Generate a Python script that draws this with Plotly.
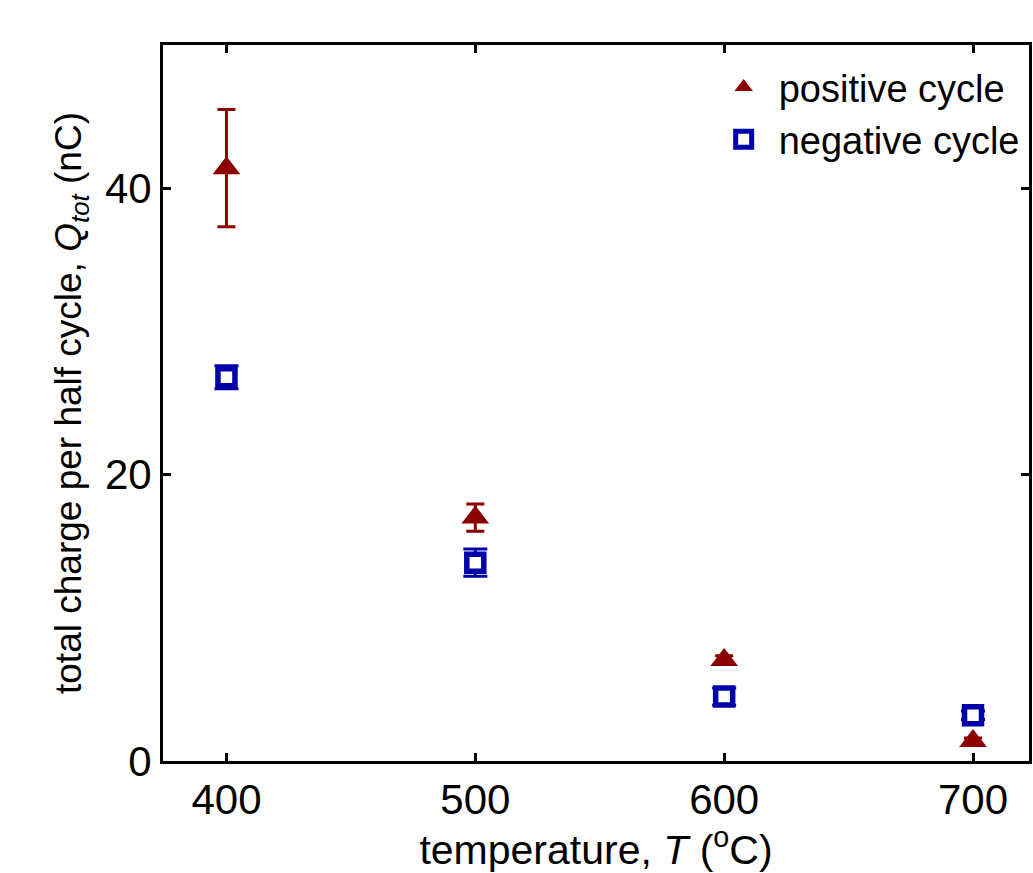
import plotly.graph_objects as go

temps = [400, 500, 600, 700]
pos_q = [41.4, 17.0, 7.05, 1.4]
pos_err = [4.1, 0.95, 0.3, 0.2]
neg_q = [26.8, 13.85, 4.5, 3.2]
neg_err = [0.8, 0.95, 0.6, 0.3]
x_ticks = [400, 500, 600, 700]
y_ticks = [0, 20, 40]

RED = "#8b0000"
BLUE = "#0000aa"
FONT = "Liberation Sans, Arial, sans-serif"

fig = go.Figure()
fig.add_trace(go.Scatter(
    x=temps, y=pos_q, mode="markers", name="positive cycle",
    marker=dict(symbol="triangle-up", size=24, color=RED, line=dict(width=0)),
    error_y=dict(type="data", array=pos_err, color=RED, thickness=3, width=9),
))
fig.add_trace(go.Scatter(
    x=temps, y=neg_q, mode="markers", name="negative cycle",
    marker=dict(symbol="square", size=17, color="white", line=dict(width=5.5, color=BLUE)),
    error_y=dict(type="data", array=neg_err, color=BLUE, thickness=3, width=12),
))

axis_common = dict(
    showline=True, linecolor="black", linewidth=3, mirror="ticks",
    ticks="inside", ticklen=8, tickwidth=3, tickcolor="black",
    showgrid=False, zeroline=False, automargin=False,
    tickfont=dict(family=FONT, size=42, color="black"),
)
fig.update_xaxes(
    range=[374.5, 722.5], tickvals=x_ticks,
    title=dict(text="temperature, <i>T</i> (<sup>o</sup>C)", font=dict(family=FONT, size=41, color="black"), standoff=8),
    **axis_common,
)
fig.update_yaxes(
    range=[0, 50], tickvals=y_ticks,
    title=dict(text="total charge per half cycle, <i>Q</i><sub><i>tot</i></sub> (nC)", font=dict(family=FONT, size=37, color="black"), standoff=12),
    **axis_common,
)
fig.update_layout(
    width=1033, height=873,
    margin=dict(l=163, r=4, t=45, b=112),
    plot_bgcolor="white", paper_bgcolor="white",
    showlegend=True,
    legend=dict(x=0.995, y=0.985, xanchor="right", yanchor="top",
                font=dict(family=FONT, size=38, color="black"),
                bgcolor="rgba(0,0,0,0)", itemsizing="trace", itemwidth=60,
                tracegroupgap=0),
)
fig.write_html("out.html", config={"displayModeBar": False},
               post_script="document.body.style.margin='0';document.body.style.overflow='hidden';")
